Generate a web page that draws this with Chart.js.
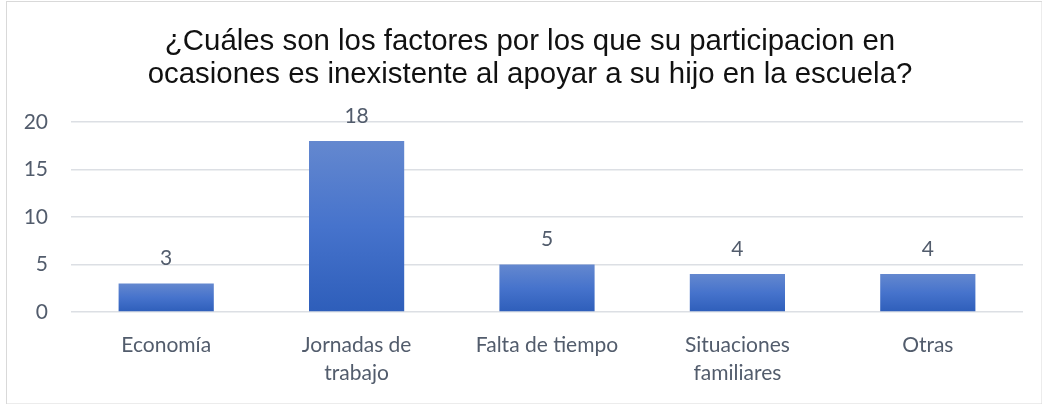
<!DOCTYPE html>
<html>
<head>
<meta charset="utf-8">
<script src="https://cdn.jsdelivr.net/npm/chart.js@4/dist/chart.umd.min.js"></script>
<style>
html,body{margin:0;padding:0;background:#fff;}
#wrap{width:1042px;height:404px;position:relative;}
</style>
</head>
<body>
<div id="wrap"><canvas id="c" width="1042" height="404"></canvas></div>
<script>
const titleLines = ['¿Cuáles son los factores por los que su participacion en', 'ocasiones es inexistente al apoyar a su hijo en la escuela?'];
const categories = ['Economía', ['Jornadas de', 'trabajo'], 'Falta de tiempo', ['Situaciones', 'familiares'], 'Otras'];
const values = [3, 18, 5, 4, 4];
const yTicks = [0, 5, 10, 15, 20];

const textColor = '#525c6c';

const framePlugin = {
  id: 'frame',
  beforeDraw(chart) {
    const ctx = chart.ctx;
    ctx.save();
    ctx.fillStyle = '#fff';
    ctx.fillRect(0, 0, chart.width, chart.height);
    ctx.strokeStyle = '#d9d9d9';
    ctx.lineWidth = 1;
    ctx.strokeRect(6.5, 1.5, chart.width - 6.5, chart.height - 1.5);
    ctx.restore();
  },
  afterLayout(chart) {
    const tb = chart.titleBlock;
    if (tb) { tb.left = 34; tb.right = 1026; }
  }
};

const labelPlugin = {
  id: 'valueLabels',
  afterDatasetsDraw(chart) {
    const ctx = chart.ctx;
    const meta = chart.getDatasetMeta(0);
    ctx.save();
    ctx.fillStyle = textColor;
    ctx.font = '21px Lato, "Open Sans", sans-serif';
    ctx.textAlign = 'center';
    ctx.textBaseline = 'middle';
    meta.data.forEach((el, i) => {
      ctx.fillText(String(values[i]), el.x, el.y - 25);
    });
    ctx.restore();
  }
};

function barGradient(context) {
  const chart = context.chart;
  if (!chart.chartArea || !chart.scales || !chart.scales.y) return '#4472c4';
  const ys = chart.scales.y;
  const v = context.raw;
  const top = ys.getPixelForValue(v);
  const bottom = ys.getPixelForValue(0);
  if (!isFinite(top) || !isFinite(bottom) || top === bottom) return '#4472c4';
  const g = chart.ctx.createLinearGradient(0, top, 0, bottom);
  g.addColorStop(0, '#6488cf');
  g.addColorStop(0.5, '#4673cc');
  g.addColorStop(1, '#2e5eba');
  return g;
}

new Chart(document.getElementById('c'), {
  type: 'bar',
  data: {
    labels: categories,
    datasets: [{
      data: values,
      backgroundColor: barGradient,
      borderWidth: 0,
      categoryPercentage: 0.5,
      barPercentage: 1
    }]
  },
  options: {
    responsive: false,
    animation: false,
    events: [],
    layout: { padding: { top: 0, left: 6, right: 19, bottom: 0 } },
    plugins: {
      legend: { display: false },
      tooltip: { enabled: false },
      title: {
        display: true,
        text: titleLines,
        color: '#111',
        font: { family: '"Liberation Sans", Arial, sans-serif', size: 29.4, weight: 'normal', lineHeight: 1.122 },
        padding: { top: 25, bottom: 31 }
      }
    },
    scales: {
      y: {
        min: 0,
        max: 20,
        afterBuildTicks(scale) { scale.ticks = yTicks.map(v => ({ value: v })); },
        afterFit(scale) { scale.width = 65; },
        ticks: {
          color: textColor,
          font: { family: 'Lato, "Open Sans", sans-serif', size: 21 },
          padding: 23
        },
        grid: { color: '#dcdfe4', lineWidth: 1.5, drawTicks: false },
        border: { display: false }
      },
      x: {
        afterFit(scale) { scale.height = 92; },
        ticks: {
          color: textColor,
          font: { family: 'Lato, "Open Sans", sans-serif', size: 21, lineHeight: 1.33 },
          padding: 19,
          maxRotation: 0,
          autoSkip: false
        },
        grid: { display: false, drawTicks: false },
        border: { display: false }
      }
    }
  },
  plugins: [framePlugin, labelPlugin]
});
</script>
</body>
</html>
